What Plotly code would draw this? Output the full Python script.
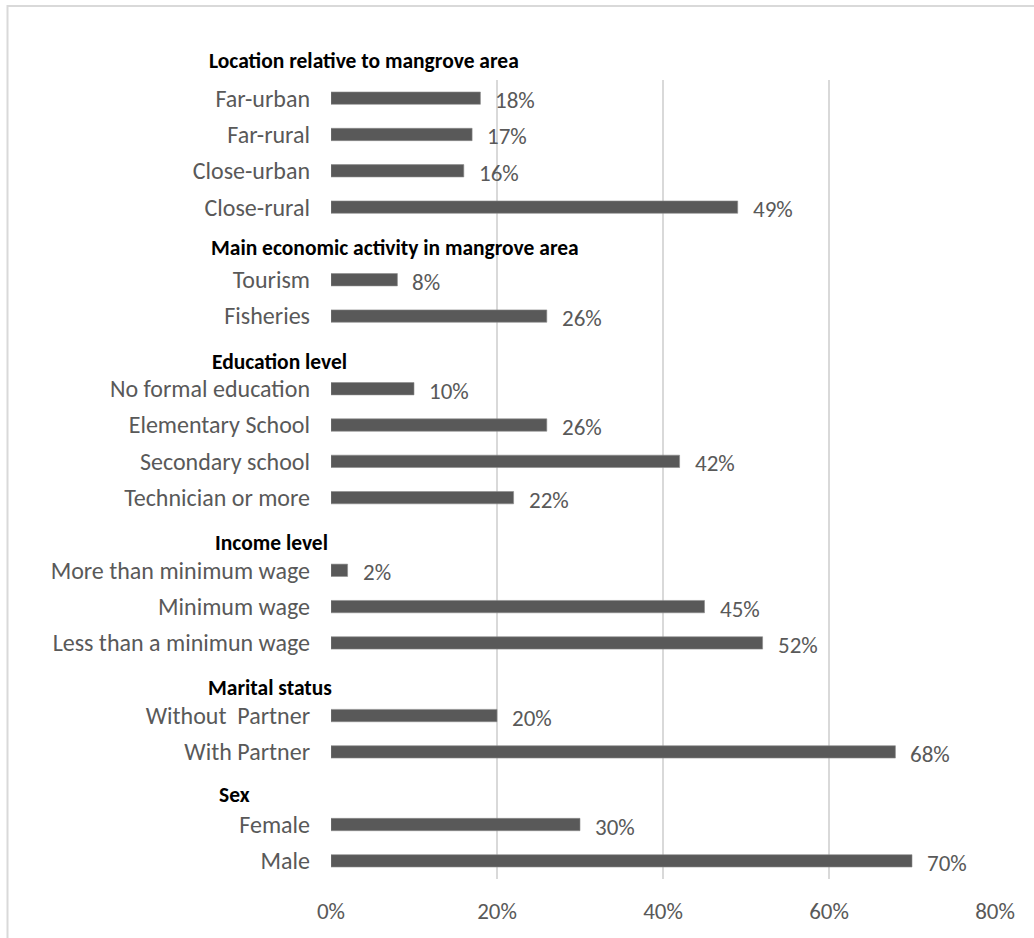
import plotly.graph_objects as go

# Survey profile: share of respondents per category, grouped by characteristic
group_titles = [
    "Location relative to mangrove area",
    "Main economic activity in mangrove area",
    "Education level",
    "Income level",
    "Marital status",
    "Sex",
]
location_labels = ["Far-urban", "Far-rural", "Close-urban", "Close-rural"]
location_values = [0.18, 0.17, 0.16, 0.49]
activity_labels = ["Tourism", "Fisheries"]
activity_values = [0.08, 0.26]
education_labels = ["No formal education", "Elementary School", "Secondary school", "Technician or more"]
education_values = [0.10, 0.26, 0.42, 0.22]
income_labels = ["More than minimum wage", "Minimum wage", "Less than a minimun wage"]
income_values = [0.02, 0.45, 0.52]
marital_labels = ["Without  Partner", "With Partner"]
marital_values = [0.20, 0.68]
sex_labels = ["Female", "Male"]
sex_values = [0.30, 0.70]
x_ticks = [0, 0.2, 0.4, 0.6, 0.8]
x_tick_labels = ["0%", "20%", "40%", "60%", "80%"]

groups = [
    (location_labels, location_values),
    (activity_labels, activity_values),
    (education_labels, education_values),
    (income_labels, income_values),
    (marital_labels, marital_values),
    (sex_labels, sex_values),
]

# Build the category rows top to bottom, with a spacer row before each group
rows, vals = [], []
for i, (labels, values) in enumerate(groups):
    if i > 0:
        rows.append(" " * i)
        vals.append(None)
    rows.extend(labels)
    vals.extend(values)

W, H = 1034, 938
L, R, T, B = 331, 995, 80, 879
FONT = "Calibri, Carlito, Lato, sans-serif"
GRAY = "#595959"
LABEL_SIZE = 23

fig = go.Figure(
    go.Bar(
        x=vals,
        y=rows,
        orientation="h",
        marker=dict(color=GRAY, line=dict(color="#8c8c8c", width=0.6)),
        hoverinfo="skip",
    )
)

# Value labels to the right of each bar
annotations = []
for r, v in zip(rows, vals):
    if v is None:
        continue
    annotations.append(dict(
        x=v, y=r, xref="x", yref="y", text=f"{round(v * 100)}%",
        showarrow=False, xanchor="left", yanchor="middle", xshift=13, yshift=-2,
        font=dict(family=FONT, size=LABEL_SIZE, color=GRAY),
    ))

# Bold group headings (left edge and vertical centre in pixels)
heading_pos = [(207, 61), (209, 248), (210, 362), (213, 543), (206, 688), (217, 795)]
for title, (px, py) in zip(group_titles, heading_pos):
    annotations.append(dict(
        x=(px - L) / (R - L), y=(B - py) / (B - T), xref="paper", yref="paper",
        text=f"<b>{title}</b>", showarrow=False, xanchor="left", yanchor="middle",
        font=dict(family=FONT, size=21.5, color="#000000"),
    ))

# Light frame around the chart area
shapes = [dict(
    type="rect", xref="paper", yref="paper",
    x0=(7.5 - L) / (R - L), x1=(W + 10 - L) / (R - L),
    y0=(B - (H + 10)) / (B - T), y1=(B - 6) / (B - T),
    line=dict(color="#d9d9d9", width=2), fillcolor="rgba(0,0,0,0)", layer="below",
)]

fig.update_layout(
    width=W, height=H,
    margin=dict(l=L, r=W - R, t=T, b=H - B),
    paper_bgcolor="white", plot_bgcolor="white",
    bargap=0.66,
    showlegend=False,
    annotations=annotations,
    shapes=shapes,
    font=dict(family=FONT, color=GRAY),
    xaxis=dict(
        range=[0, 0.8], tickvals=x_ticks, ticktext=x_tick_labels,
        showgrid=True, gridcolor="#d9d9d9", gridwidth=1.5,
        zeroline=False, showline=False, ticks="",
        tickfont=dict(family=FONT, size=LABEL_SIZE, color=GRAY), ticklabelstandoff=16,
    ),
    yaxis=dict(
        categoryorder="array", categoryarray=rows, autorange="reversed",
        showgrid=False, zeroline=False, ticks="", ticklabelstandoff=20,
        tickfont=dict(family=FONT, size=24, color=GRAY),
    ),
)

fig.write_html("out.html")
